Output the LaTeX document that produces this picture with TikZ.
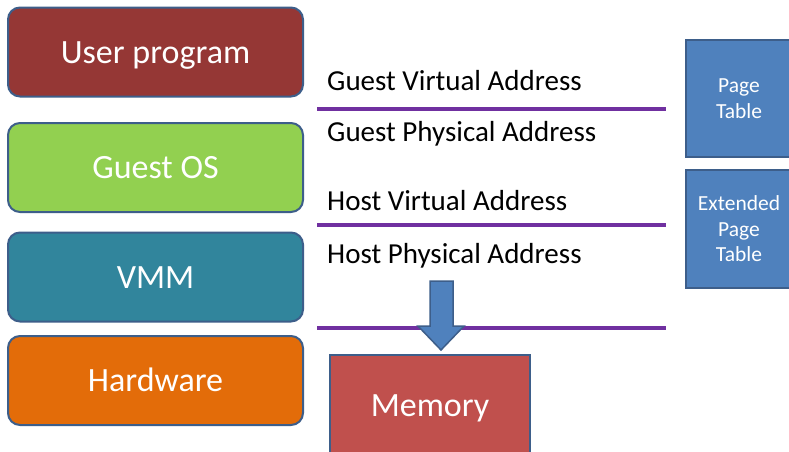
\documentclass[tikz,border=0pt]{standalone}
\usepackage{fontspec}
\setmainfont{Carlito}
\definecolor{userred}{HTML}{953735}
\definecolor{guestgreen}{HTML}{92D050}
\definecolor{vmmteal}{HTML}{31859C}
\definecolor{hworange}{HTML}{E36C09}
\definecolor{memred}{HTML}{C0504D}
\definecolor{tblue}{HTML}{4F81BD}
\definecolor{edgeblue}{HTML}{3D5E8A}
\definecolor{linepurple}{HTML}{7030A0}
\begin{document}
\begin{tikzpicture}[x=1pt,y=-1pt,
  layer/.style={draw=edgeblue, line width=2pt, rounded corners=12pt,
    minimum width=295pt, minimum height=89pt, inner sep=0pt,
    text height=22pt, text depth=0pt,
    text=white, font=\fontsize{34}{36}\selectfont},
  tablebox/.style={draw=edgeblue, line width=2pt, fill=tblue, text=white,
    inner sep=0pt, align=center, font=\fontsize{21.5}{25.5}\selectfont},
  addr/.style={anchor=base west, inner sep=0pt, text=black,
    font=\fontsize{29}{30}\selectfont},
  sep/.style={draw=linepurple, line width=4pt}]
\useasboundingbox (0,0) rectangle (789,451);
\fill[white] (0,0) rectangle (789,451);

% software/hardware stack
\node[layer, fill=userred]    (user) at (155.5,52)  {User program};
\node[layer, fill=guestgreen] (gos)  at (155.5,167.5) {Guest OS};
\node[layer, fill=vmmteal]    (vmm)  at (155.5,277) {VMM};
\node[layer, fill=hworange]   (hw)   at (155.5,380.5) {Hardware};

% address spaces and the boundaries between them
\node[addr] (gva) at (327,90)  {Guest Virtual Address};
\node[addr] (gpa) at (327,141) {Guest Physical Address};
\node[addr] (hva) at (327,210) {Host Virtual Address};
\node[addr] (hpa) at (327,263) {Host Physical Address};

\coordinate (s1a) at (317,109); \coordinate (s1b) at (666,109);
\coordinate (s2a) at (317,225); \coordinate (s2b) at (666,225);
\coordinate (s3a) at (317,328); \coordinate (s3b) at (666,328);
\draw[sep] (s1a) -- (s1b);
\draw[sep] (s2a) -- (s2b);
\draw[sep] (s3a) -- (s3b);

% translation tables
\node[tablebox, minimum width=106pt, minimum height=117pt] (pt) at (739,98.5) {Page\\Table};
\node[tablebox, minimum width=106pt, minimum height=118pt] (ept) at (739,229) {Extended\\Page\\Table};

% memory
\node[draw=edgeblue, line width=2pt, fill=memred, text=white, inner sep=0pt,
  minimum width=200pt, minimum height=100pt,
  font=\fontsize{34}{36}\selectfont, text height=22pt, text depth=0pt] (mem) at (430,405) {Memory};

% block arrow down to memory
\coordinate (tip) at (441,350);
\filldraw[fill=tblue, draw=edgeblue, line width=1.5pt, line join=miter]
  (430,281) -- (453,281) -- (453,326) -- (464,326) -- (tip)
  -- (418,326) -- (430,326) -- cycle;
\end{tikzpicture}
\end{document}
